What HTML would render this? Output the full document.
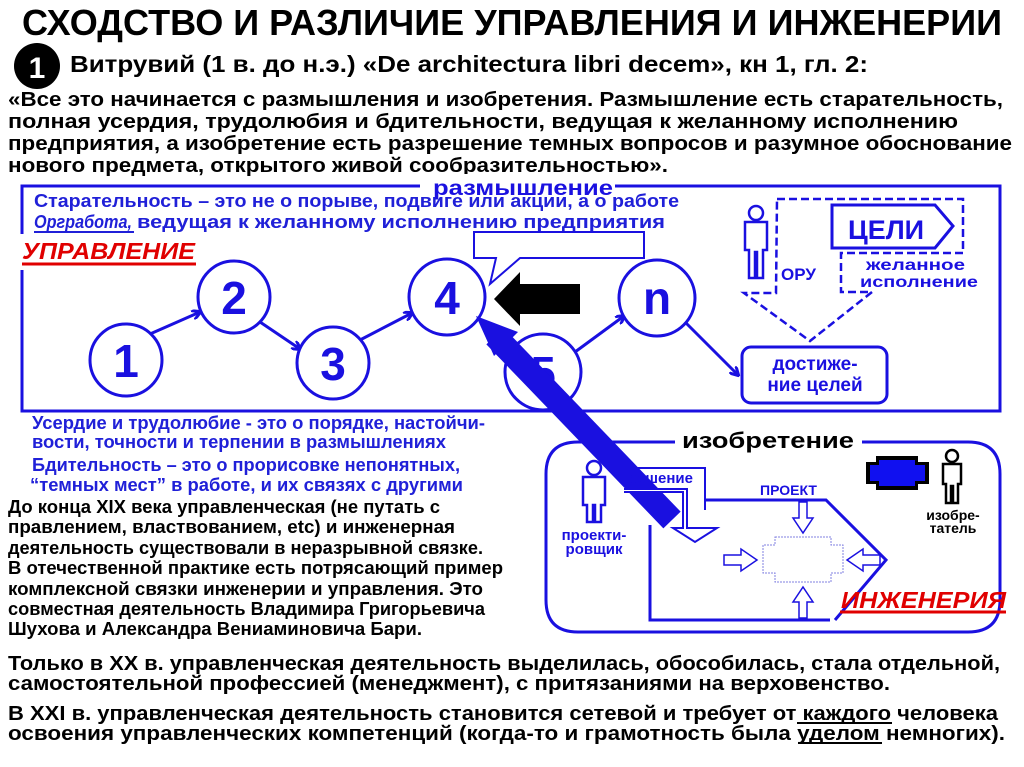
<!DOCTYPE html>
<html><head><meta charset="utf-8"><style>
html,body{margin:0;padding:0;background:#fff;}
svg{display:block}
text{font-family:"Liberation Sans",sans-serif;font-weight:bold}
</style></head><body>
<svg width="1024" height="767" viewBox="0 0 1024 767" xmlns="http://www.w3.org/2000/svg">
<defs>
<marker id="ah" markerWidth="10" markerHeight="10" refX="8" refY="5" orient="auto" markerUnits="userSpaceOnUse">
<path d="M0,0 L9,5 L0,10" fill="none" stroke="#1a10e0" stroke-width="3"/>
</marker>
</defs>
<rect width="1024" height="767" fill="#fff"/>

<!-- Title -->
<text x="22" y="35" font-size="36" textLength="980" lengthAdjust="spacingAndGlyphs">СХОДСТВО И РАЗЛИЧИЕ УПРАВЛЕНИЯ И ИНЖЕНЕРИИ</text>
<circle cx="37" cy="66" r="23" fill="#000"/>
<text x="37" y="78" font-size="30" fill="#fff" text-anchor="middle">1</text>
<text x="70" y="72" font-size="23" textLength="798" lengthAdjust="spacingAndGlyphs">Витрувий (1 в. до н.э.) «De architectura libri decem», кн 1, гл. 2:</text>

<g font-size="20">
<text x="8" y="106" textLength="995" lengthAdjust="spacingAndGlyphs">«Все это начинается с размышления и изобретения. Размышление есть старательность,</text>
<text x="8" y="128" textLength="950" lengthAdjust="spacingAndGlyphs">полная  усердия, трудолюбия и бдительности, ведущая к желанному исполнению</text>
<text x="8" y="150" textLength="1004" lengthAdjust="spacingAndGlyphs">предприятия, а изобретение есть разрешение темных вопросов и разумное обоснование</text>
<text x="8" y="172" textLength="660" lengthAdjust="spacingAndGlyphs">нового предмета, открытого живой сообразительностью».</text>
</g>

<!-- Management frame -->
<g stroke="#1a10e0" stroke-width="3" fill="none">
<polyline points="420,186 22,186 22,234"/>
<polyline points="22,270 22,411 1000,411 1000,186 615,186"/>
</g>
<text x="433" y="195" font-size="21" fill="#1a10e0" textLength="180" lengthAdjust="spacingAndGlyphs">размышление</text>
<rect x="425" y="174" width="195" height="8" fill="#fff"/>

<g font-size="18" fill="#2020d8">
<text x="34" y="207" textLength="645" lengthAdjust="spacingAndGlyphs">Старательность – это не о порыве, подвиге или акции, а о работе</text>
<text x="34" y="228" font-style="italic" textLength="98" lengthAdjust="spacingAndGlyphs">Оргработа,</text>
<line x1="34" y1="232" x2="134" y2="232" stroke="#2020d8" stroke-width="2"/>
<text x="137" y="228" textLength="528" lengthAdjust="spacingAndGlyphs">ведущая к желанному исполнению предприятия</text>
</g>

<text x="22" y="259" font-size="23" fill="#e00000" font-style="italic" textLength="173" lengthAdjust="spacingAndGlyphs">УПРАВЛЕНИЕ</text>
<line x1="22" y1="264" x2="196" y2="264" stroke="#e00000" stroke-width="3"/>

<!-- callout -->
<path d="M474,232 H644 V258 H520 L490,284 L496,258 H474 Z" fill="#fff" stroke="#1a10e0" stroke-width="2"/>

<!-- arrows between circles -->
<g stroke="#1a10e0" stroke-width="3" fill="none" marker-end="url(#ah)">
<line x1="150" y1="334" x2="200" y2="312"/>
<line x1="260" y1="322" x2="300" y2="349"/>
<line x1="360" y1="340" x2="412" y2="313"/>
<line x1="575" y1="352" x2="624" y2="316"/>
<line x1="685" y1="322" x2="738" y2="375"/>
</g>

<!-- circles -->
<g stroke="#1a10e0" stroke-width="3" fill="#fff">
<circle cx="126" cy="360" r="36"/>
<circle cx="234" cy="297" r="36"/>
<circle cx="333" cy="363" r="36"/>
<circle cx="447" cy="297" r="38"/>
<circle cx="543" cy="372" r="38"/>
<circle cx="657" cy="298" r="38"/>
</g>
<g font-size="46" fill="#1a10e0" text-anchor="middle">
<text x="126" y="377">1</text>
<text x="234" y="314">2</text>
<text x="333" y="380">3</text>
<text x="447" y="314">4</text>
<text x="543" y="389">5</text>
<text x="657" y="314">n</text>
</g>

<!-- black arrow -->
<path d="M580,284 V314 H520 V326 L494,299 L520,272 V284 Z" fill="#000"/>

<!-- big blue arrow -->
<line x1="672" y1="520" x2="495" y2="336" stroke="#1a10e0" stroke-width="24"/>
<path d="M476,316 L518,332 L494,356 Z" fill="#1a10e0"/>

<!-- person ORU -->
<g fill="#fff" stroke="#1a10e0" stroke-width="2.5">
<circle cx="756" cy="213" r="7"/>
<path d="M745,222 H767 V250 H763 V278 H757 V252 H755 V278 H749 V250 H745 Z"/>
</g>

<!-- dashed goal shape -->
<path d="M777,199 H963 V253 H841 V292 H872 L810,341 L744,293 H776 Z" fill="none" stroke="#1a10e0" stroke-width="2.5" stroke-dasharray="8,4"/>
<path d="M832,205 H935 L953,226 L935,248 H832 Z" fill="#fff" stroke="#1a10e0" stroke-width="3"/>
<text x="848" y="239" font-size="27" fill="#1a10e0">ЦЕЛИ</text>
<text x="781" y="280" font-size="17" fill="#1a10e0">ОРУ</text>
<text x="866" y="270" font-size="16" fill="#1a10e0" textLength="99" lengthAdjust="spacingAndGlyphs">желанное</text>
<text x="860" y="287" font-size="16" fill="#1a10e0" textLength="118" lengthAdjust="spacingAndGlyphs">исполнение</text>

<rect x="742" y="347" width="145" height="56" rx="9" fill="#fff" stroke="#1a10e0" stroke-width="3"/>
<text x="815" y="370" font-size="19" fill="#1a10e0" text-anchor="middle">достиже-</text>
<text x="815" y="391" font-size="19" fill="#1a10e0" text-anchor="middle">ние целей</text>

<!-- lower blue text -->
<g font-size="18.5" fill="#2020d8">
<text x="32" y="429" textLength="453" lengthAdjust="spacingAndGlyphs">Усердие и трудолюбие - это о порядке, настойчи-</text>
<text x="32" y="448" textLength="414" lengthAdjust="spacingAndGlyphs">вости, точности и терпении в размышлениях</text>
<text x="32" y="471" textLength="428" lengthAdjust="spacingAndGlyphs">Бдительность – это о прорисовке непонятных,</text>
<text x="30" y="491" textLength="433" lengthAdjust="spacingAndGlyphs">“темных мест” в работе, и их связях с другими</text>
</g>

<!-- black paragraph -->
<g font-size="18">
<text x="8" y="513" textLength="432" lengthAdjust="spacingAndGlyphs">До конца XIX века управленческая (не путать с</text>
<text x="8" y="533" textLength="447" lengthAdjust="spacingAndGlyphs">правлением, властвованием, etc) и инженерная</text>
<text x="8" y="554" textLength="475" lengthAdjust="spacingAndGlyphs">деятельность существовали в неразрывной связке.</text>
<text x="8" y="574" textLength="495" lengthAdjust="spacingAndGlyphs">В отечественной практике есть потрясающий пример</text>
<text x="8" y="595" textLength="475" lengthAdjust="spacingAndGlyphs">комплексной связки инженерии и управления. Это</text>
<text x="8" y="615" textLength="477" lengthAdjust="spacingAndGlyphs">совместная деятельность Владимира Григорьевича</text>
<text x="8" y="635" textLength="414" lengthAdjust="spacingAndGlyphs">Шухова и Александра Вениаминовича Бари.</text>
</g>

<!-- invention frame -->
<path d="M675,442 H578 Q546,442 546,474 V600 Q546,632 578,632 H968 Q1000,632 1000,600 V474 Q1000,442 968,442 H862" fill="none" stroke="#1a10e0" stroke-width="3"/>
<text x="682" y="448" font-size="22" textLength="172" lengthAdjust="spacingAndGlyphs">изобретение</text>

<!-- designer person -->
<g fill="#fff" stroke="#1a10e0" stroke-width="2.5">
<circle cx="594" cy="468" r="7"/>
<path d="M583,477 H605 V505 H601 V522 H595 V505 H593 V522 H587 V505 H583 Z"/>
</g>
<text x="594" y="540" font-size="15" fill="#1a10e0" text-anchor="middle">проекти-</text>
<text x="594" y="554" font-size="15" fill="#1a10e0" text-anchor="middle">ровщик</text>

<!-- решение box + arrow -->
<path d="M626,468 H705 V510" fill="none" stroke="#1a10e0" stroke-width="2"/>
<text x="628" y="483" font-size="15" fill="#1a10e0">решение</text>
<path d="M624,489 H687 V528 H717 L695,542 L673,528 H683 V492 H624" fill="#fff" stroke="#1a10e0" stroke-width="2"/>

<!-- engineering frame -->
<polyline points="705,500 826,500 886,560 835,620" fill="none" stroke="#1a10e0" stroke-width="3"/>
<polyline points="650,525 650,620 830,620" fill="none" stroke="#1a10e0" stroke-width="3"/>
<text x="760" y="495" font-size="14" fill="#1a10e0">ПРОЕКТ</text>
<!-- dotted cross -->
<path d="M775,537 H831 V545 H843 V573 H831 V582 H775 V573 H763 V545 H775 Z" fill="none" stroke="#8080e0" stroke-width="1" stroke-dasharray="2,1"/>
<g fill="#fff" stroke="#1a10e0" stroke-width="1.5">
<path d="M799,502 H807 V518 H813 L803,533 L793,518 H799 Z"/>
<path d="M799,618 H807 V602 H813 L803,587 L793,602 H799 Z"/>
<path d="M724,555 H741 V549 L757,560 L741,571 V565 H724 Z"/>
<path d="M880,555 H863 V549 L847,560 L863,571 V565 H880 Z"/>
</g>

<!-- octagon -->
<path d="M876,456 H918 V462 H929 V484 H918 V490 H876 V484 H866 V462 H876 Z" fill="#000"/>
<path d="M879,460 H915 V465 H925 V481 H915 V486 H879 V481 H870 V465 H879 Z" fill="#1010f0"/>
<!-- inventor -->
<g fill="#fff" stroke="#000" stroke-width="2.5">
<circle cx="952" cy="456" r="6"/>
<path d="M943,464 H961 V484 H958 V503 H953 V486 H951 V503 H946 V484 H943 Z"/>
</g>
<text x="953" y="520" font-size="14" text-anchor="middle">изобре-</text>
<text x="953" y="533" font-size="14" text-anchor="middle">татель</text>

<text x="841" y="608" font-size="23" fill="#e00000" font-style="italic" textLength="165" lengthAdjust="spacingAndGlyphs">ИНЖЕНЕРИЯ</text>
<line x1="840" y1="612" x2="1006" y2="612" stroke="#e00000" stroke-width="3"/>

<!-- bottom text -->
<g font-size="20">
<text x="8" y="670" textLength="992" lengthAdjust="spacingAndGlyphs">Только в XX в. управленческая деятельность выделилась, обособилась, стала отдельной,</text>
<text x="8" y="690" textLength="882" lengthAdjust="spacingAndGlyphs">самостоятельной профессией (менеджмент), с притязаниями на верховенство.</text>
<text x="8" y="720" textLength="990" lengthAdjust="spacingAndGlyphs">В XXI в. управленческая деятельность становится сетевой и требует от каждого человека</text>
<text x="8" y="740" textLength="997" lengthAdjust="spacingAndGlyphs">освоения управленческих компетенций (когда-то и грамотность была уделом немногих).</text>
</g>
<line x1="797" y1="723" x2="892" y2="723" stroke="#000" stroke-width="2"/>
<line x1="798" y1="743" x2="882" y2="743" stroke="#000" stroke-width="2"/>
</svg>
</body></html>
